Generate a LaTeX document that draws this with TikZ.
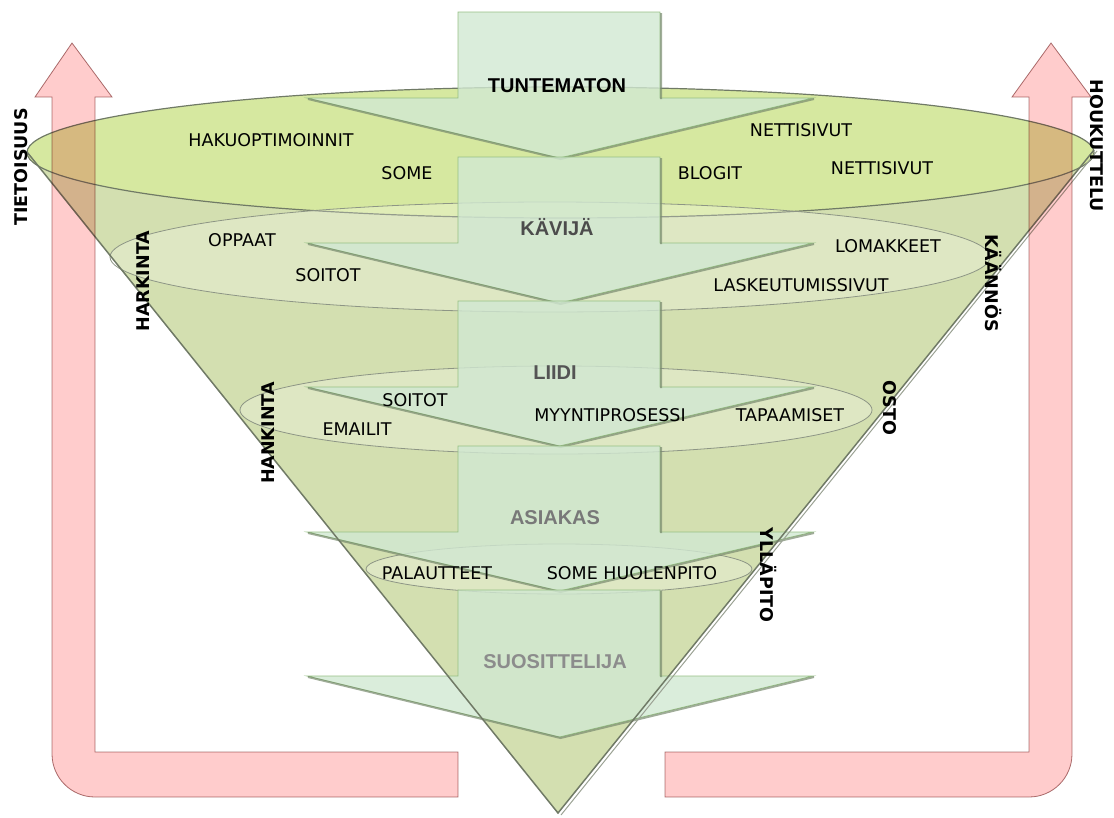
\documentclass[tikz,border=0pt]{standalone}
\usepackage{fontspec}
\setmainfont{DejaVu Sans}
\newfontfamily\headfont{Liberation Sans}

\definecolor{conegreen}{RGB}{211,223,176}
\definecolor{topgreen}{RGB}{214,232,160}
\definecolor{arrowmint}{RGB}{209,232,210}
\definecolor{arrowedge}{RGB}{150,192,132}
\definecolor{arrowshade}{RGB}{120,138,110}
\definecolor{rimgray}{RGB}{112,122,102}
\definecolor{pinkfill}{RGB}{255,204,204}
\definecolor{pinkedge}{RGB}{170,120,120}

\begin{document}
\begin{tikzpicture}[x=1pt,y=-1pt,
  lbl/.style={font=\fontsize{17.5}{20}\selectfont,inner sep=0pt,text height=12.8pt,text depth=0pt},
  side/.style={font=\fontsize{17.5}{20}\selectfont\bfseries,inner sep=0pt,text height=12.8pt,text depth=0pt},
  stage/.style={font=\headfont\fontsize{20}{24}\selectfont\bfseries,inner sep=0pt,text height=14.3pt,text depth=0pt},
  funnel/.style={fill=arrowmint,fill opacity=.8,draw=arrowedge,line width=.8pt},
  shade/.style={draw=arrowshade,draw opacity=.7,line width=2pt,xshift=1pt,yshift=-1pt},
  ring/.style={fill=white,fill opacity=.25,draw=rimgray!80,line width=.8pt},
  pinkarrow/.style={fill=pinkfill,draw=pinkedge,line width=.8pt}]

\useasboundingbox (0,0) rectangle (1114,817);

% cone and rings
\fill[conegreen] (27,152) -- (558,813) -- (1094,150) -- cycle;
\draw[fill=topgreen,draw=rimgray,line width=1.2pt] (560.5,152.5) ellipse [x radius=533.5,y radius=65.5];
\draw[ring] (550,257) ellipse [x radius=440,y radius=55];
\draw[ring] (556,410) ellipse [x radius=316,y radius=44];
\draw[ring] (559,569) ellipse [x radius=193,y radius=25];

% stage arrows
\draw[funnel] (458,12) -- (660,12) -- (660,98) -- (813,98) -- (559.5,158) -- (307,98) -- (458,98) -- cycle;
\draw[shade] (660,12) -- (660,98) (813,98) -- (559.5,158) -- (307,98);
\draw[funnel] (458,157) -- (660,157) -- (660,243) -- (813,243) -- (559.5,303) -- (307,243) -- (458,243) -- cycle;
\draw[shade] (660,157) -- (660,243) (813,243) -- (559.5,303) -- (307,243);
\draw[funnel] (458,301) -- (660,301) -- (660,387) -- (813,387) -- (559.5,446) -- (307,387) -- (458,387) -- cycle;
\draw[shade] (660,301) -- (660,387) (813,387) -- (559.5,446) -- (307,387);
\draw[funnel] (458,446) -- (660,446) -- (660,532) -- (813,532) -- (559.5,591) -- (307,532) -- (458,532) -- cycle;
\draw[shade] (660,446) -- (660,532) (813,532) -- (559.5,591) -- (307,532);
\draw[funnel] (458,590) -- (660,590) -- (660,676) -- (813,676) -- (559.5,737) -- (307,676) -- (458,676) -- cycle;
\draw[shade] (660,590) -- (660,676) (813,676) -- (559.5,737) -- (307,676);

\draw[rimgray!70,line width=1pt] (1097,151) -- (561,815);
\draw[rimgray,line width=1.5pt] (27,152) -- (558,813) -- (1094,150);

\node[stage] (tuntematon) at (557,85) {TUNTEMATON};
\node[stage,text=black!70] (kavija) at (557,228) {KÄVIJÄ};
\node[stage,text=black!67] (liidi) at (555,372) {LIIDI};
\node[stage,text=black!53] (asiakas) at (555,517) {ASIAKAS};
\node[stage,text=black!45] (suosittelija) at (555,661) {SUOSITTELIJA};

\node[lbl] (hakuopt) at (271,140) {HAKUOPTIMOINNIT};
\node[lbl] (some) at (407,173) {SOME};
\node[lbl] (netti1) at (801,130) {NETTISIVUT};
\node[lbl] (blogit) at (710,173) {BLOGIT};
\node[lbl] (netti2) at (882,168) {NETTISIVUT};
\node[lbl] (oppaat) at (242,240) {OPPAAT};
\node[lbl] (soitot1) at (328,275) {SOITOT};
\node[lbl] (lomakkeet) at (888,246) {LOMAKKEET};
\node[lbl] (laskeutum) at (801,285) {LASKEUTUMISSIVUT};
\node[lbl] (soitot2) at (415,400) {SOITOT};
\node[lbl] (emailit) at (357,429) {EMAILIT};
\node[lbl] (myynti) at (610,415) {MYYNTIPROSESSI};
\node[lbl] (tapaamiset) at (790,415) {TAPAAMISET};
\node[lbl] (palautteet) at (437,573) {PALAUTTEET};
\node[lbl] (somehuolto) at (632,573) {SOME HUOLENPITO};

\node[side,rotate=90] (tietoisuus) at (21,167) {TIETOISUUS};
\node[side,rotate=90] (harkinta) at (143,281) {HARKINTA};
\node[side,rotate=90] (hankinta) at (268,433) {HANKINTA};
\node[side,rotate=-90] (houkuttelu) at (1097,146) {HOUKUTTELU};
\node[side,rotate=-90] (kaannos) at (992,283) {KÄÄNNÖS};
\node[side,rotate=-90] (osto) at (890,408) {OSTO};
\node[side,rotate=-90] (yllapito) at (767,575) {YLLÄPITO};

% loop arrows
\begin{scope}[blend mode=multiply]
\draw[pinkarrow] (458,752) -- (95,752) -- (95,97) -- (112,97) -- (72,43) -- (35,97) -- (52,97)
  -- (52,754) arc[start angle=180,end angle=90,radius=43] -- (458,797) -- cycle;
\draw[pinkarrow] (665,752) -- (1029,752) -- (1029,97) -- (1012,97) -- (1051,43) -- (1091,97) -- (1072,97)
  -- (1072,754) arc[start angle=0,end angle=90,radius=43] -- (665,797) -- cycle;
\end{scope}

\end{tikzpicture}
\end{document}
